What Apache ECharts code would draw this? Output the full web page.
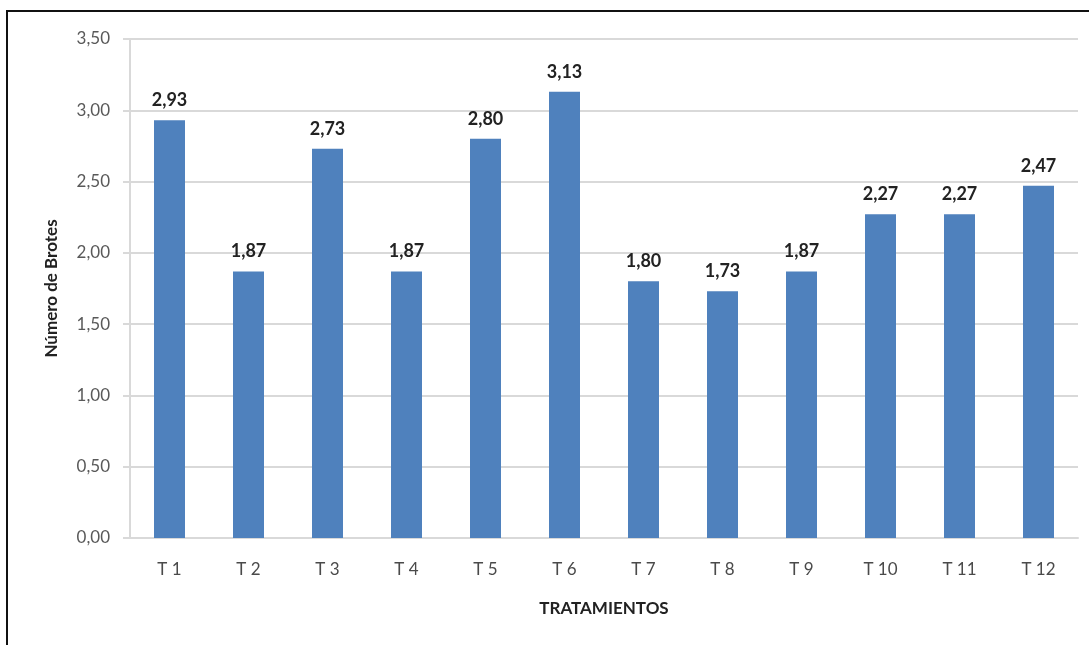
<!DOCTYPE html>
<html>
<head>
<meta charset="utf-8">
<script src="https://cdn.jsdelivr.net/npm/echarts@6/dist/echarts.min.js"></script>
<style>
  html, body { margin: 0; padding: 0; background: #fff; }
  #wrap { position: relative; width: 1089px; height: 645px; overflow: hidden; }
  #frame { position: absolute; left: 6px; top: 10px; width: 1200px; height: 700px;
           border: 2px solid #111; box-sizing: border-box; }
  #chart { position: absolute; left: 0; top: 0; width: 1089px; height: 645px; }
</style>
</head>
<body>
<div id="wrap">
  <div id="frame"></div>
  <div id="chart"></div>
</div>
<script>
// Treatments and mean number of shoots per treatment
const categories = ['T 1', 'T 2', 'T 3', 'T 4', 'T 5', 'T 6', 'T 7', 'T 8', 'T 9', 'T 10', 'T 11', 'T 12'];
const brotes = [2.93, 1.87, 2.73, 1.87, 2.80, 3.13, 1.80, 1.73, 1.87, 2.27, 2.27, 2.47];
const yTicks = { min: 0, max: 3.5, interval: 0.5 };

const fmt = v => v.toFixed(2).replace('.', ',');
const font = 'Lato, "Open Sans", sans-serif';

const chart = echarts.init(document.getElementById('chart'));
chart.setOption({
  animation: false,
  grid: { left: 130, right: 11, top: 39, bottom: 107, containLabel: false },
  xAxis: {
    type: 'category',
    data: categories,
    name: 'TRATAMIENTOS',
    nameLocation: 'middle',
    nameGap: 62,
    nameTextStyle: { fontFamily: font, fontWeight: 'bold', fontSize: 17, color: '#222' },
    axisLine: { lineStyle: { color: '#d9d9d9', width: 2 } },
    axisTick: { show: false },
    axisLabel: { fontFamily: font, fontSize: 17, color: '#4a4a4a', margin: 23 }
  },
  yAxis: {
    type: 'value',
    min: yTicks.min, max: yTicks.max, interval: yTicks.interval,
    name: 'Número de Brotes',
    nameLocation: 'middle',
    nameGap: 70,
    nameRotate: 90,
    nameTextStyle: { fontFamily: font, fontWeight: 'bold', fontSize: 17, color: '#222' },
    axisLine: { show: true, lineStyle: { color: '#d9d9d9', width: 2 } },
    axisTick: { show: true, length: 7, lineStyle: { color: '#d9d9d9', width: 2 } },
    splitLine: { lineStyle: { color: '#d9d9d9', width: 2 } },
    axisLabel: { fontFamily: font, fontSize: 17, color: '#595959', margin: 20, formatter: fmt }
  },
  series: [{
    type: 'bar',
    data: brotes,
    barWidth: 31,
    itemStyle: { color: '#4f81bd' },
    label: {
      show: true, position: 'top', distance: 11,
      fontFamily: font, fontWeight: 'bold', fontSize: 18, color: '#222',
      formatter: p => fmt(p.value)
    }
  }]
});
</script>
</body>
</html>
